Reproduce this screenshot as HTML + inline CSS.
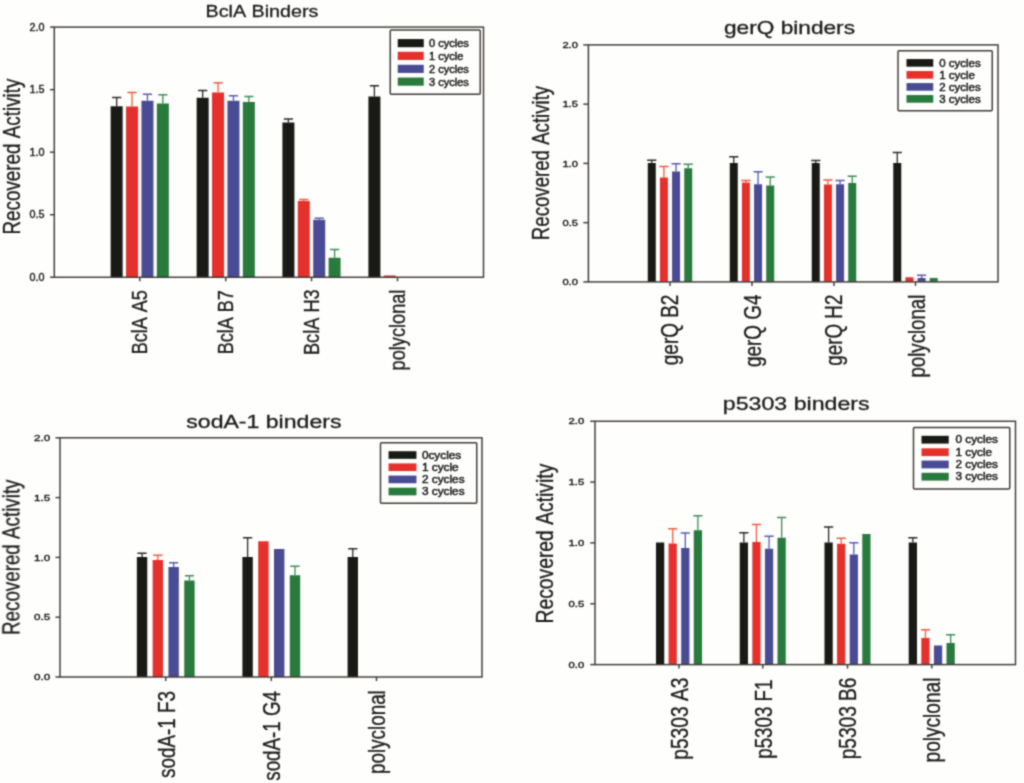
<!DOCTYPE html>
<html lang="en">
<head>
<meta charset="utf-8">
<title>Recovered Activity of binders after thermal cycles</title>
<style>
html,body{margin:0;padding:0;background:#fefefd;}
body{width:1024px;height:783px;overflow:hidden;}
svg{display:block;}
svg text{font-family:"Liberation Sans",Arial,Helvetica,sans-serif;font-kerning:none;}
</style>
</head>
<body>
<svg width="1024" height="783" viewBox="0 0 1024 783">
<defs><filter id="soft" x="0" y="0" width="1024" height="783" filterUnits="userSpaceOnUse" color-interpolation-filters="sRGB"><feConvolveMatrix order="3" kernelMatrix="0.04 0.12 0.04 0.12 0.36 0.12 0.04 0.12 0.04" edgeMode="duplicate" preserveAlpha="false"/></filter></defs>
<rect width="1024" height="783" fill="#fefefd"/>
<g filter="url(#soft)">
<g id="chart1">
<rect x="110.65" y="106.25" width="12" height="171" fill="#191915"/>
<path d="M116.65 106.25V97.5M112.05 97.5H121.25" stroke="#2e2a27" stroke-width="1.3" fill="none"/>
<rect x="126.05" y="106.5" width="12" height="170.75" fill="#e6302b"/>
<path d="M132.05 106.5V92.5M127.45 92.5H136.65" stroke="#ef5a3e" stroke-width="1.3" fill="none"/>
<rect x="141.45" y="100.75" width="12" height="176.5" fill="#4a4b95"/>
<path d="M147.45 100.75V94.25M142.85 94.25H152.05" stroke="#5a5ab0" stroke-width="1.3" fill="none"/>
<rect x="156.85" y="103.5" width="12" height="173.75" fill="#287a3d"/>
<path d="M162.85 103.5V94.75M158.25 94.75H167.45" stroke="#3e8c54" stroke-width="1.3" fill="none"/>
<rect x="196.65" y="97.75" width="12" height="179.5" fill="#191915"/>
<path d="M202.65 97.75V90.5M198.05 90.5H207.25" stroke="#2e2a27" stroke-width="1.3" fill="none"/>
<rect x="212.05" y="92.5" width="12" height="184.75" fill="#e6302b"/>
<path d="M218.05 92.5V82.75M213.45 82.75H222.65" stroke="#ef5a3e" stroke-width="1.3" fill="none"/>
<rect x="227.45" y="100.75" width="12" height="176.5" fill="#4a4b95"/>
<path d="M233.45 100.75V95.75M228.85 95.75H238.05" stroke="#5a5ab0" stroke-width="1.3" fill="none"/>
<rect x="242.85" y="102" width="12" height="175.25" fill="#287a3d"/>
<path d="M248.85 102V96.5M244.25 96.5H253.45" stroke="#3e8c54" stroke-width="1.3" fill="none"/>
<rect x="282.4" y="122.5" width="12" height="154.75" fill="#191915"/>
<path d="M288.4 122.5V119M283.8 119H293" stroke="#2e2a27" stroke-width="1.3" fill="none"/>
<rect x="297.8" y="201" width="12" height="76.25" fill="#e6302b"/>
<path d="M303.8 201V199.5M299.2 199.5H308.4" stroke="#ef5a3e" stroke-width="1.3" fill="none"/>
<rect x="313.2" y="219.75" width="12" height="57.5" fill="#4a4b95"/>
<path d="M319.2 219.75V218.25M314.6 218.25H323.8" stroke="#5a5ab0" stroke-width="1.3" fill="none"/>
<rect x="328.6" y="257.75" width="12" height="19.5" fill="#287a3d"/>
<path d="M334.6 257.75V249.5M330 249.5H339.2" stroke="#3e8c54" stroke-width="1.3" fill="none"/>
<rect x="368.4" y="96.5" width="12" height="180.75" fill="#191915"/>
<path d="M374.4 96.5V85.75M369.8 85.75H379" stroke="#2e2a27" stroke-width="1.3" fill="none"/>
<rect x="383.8" y="275.5" width="12" height="1.75" fill="#e6302b"/>
<rect x="54.3" y="27.1" width="429.2" height="250.15" fill="none" stroke="#3f3b37" stroke-width="1.45"/>
<path d="M50 27.1H54.3" stroke="#3f3b37" stroke-width="1.45"/>
<text x="29.4" y="30.53" font-size="10.4" textLength="15" lengthAdjust="spacingAndGlyphs" fill="#1c1c1c" stroke="#1c1c1c" stroke-width="0.4">2.0</text>
<path d="M50 89.64H54.3" stroke="#3f3b37" stroke-width="1.45"/>
<text x="29.4" y="93.07" font-size="10.4" textLength="15" lengthAdjust="spacingAndGlyphs" fill="#1c1c1c" stroke="#1c1c1c" stroke-width="0.4">1.5</text>
<path d="M50 152.18H54.3" stroke="#3f3b37" stroke-width="1.45"/>
<text x="29.4" y="155.61" font-size="10.4" textLength="15" lengthAdjust="spacingAndGlyphs" fill="#1c1c1c" stroke="#1c1c1c" stroke-width="0.4">1.0</text>
<path d="M50 214.71H54.3" stroke="#3f3b37" stroke-width="1.45"/>
<text x="29.4" y="218.14" font-size="10.4" textLength="15" lengthAdjust="spacingAndGlyphs" fill="#1c1c1c" stroke="#1c1c1c" stroke-width="0.4">0.5</text>
<path d="M50 277.25H54.3" stroke="#3f3b37" stroke-width="1.45"/>
<text x="29.4" y="280.68" font-size="10.4" textLength="15" lengthAdjust="spacingAndGlyphs" fill="#1c1c1c" stroke="#1c1c1c" stroke-width="0.4">0.0</text>
<path d="M139.75 277.25V281.25" stroke="#3f3b37" stroke-width="1.45"/>
<text transform="translate(147.15 354.3) rotate(-90)" font-size="22" textLength="64.2" lengthAdjust="spacingAndGlyphs" fill="#1c1c1c" stroke="#1c1c1c" stroke-width="0.35">BclA A5</text>
<path d="M225.75 277.25V281.25" stroke="#3f3b37" stroke-width="1.45"/>
<text transform="translate(233.15 354.3) rotate(-90)" font-size="22" textLength="64.2" lengthAdjust="spacingAndGlyphs" fill="#1c1c1c" stroke="#1c1c1c" stroke-width="0.35">BclA B7</text>
<path d="M311.5 277.25V281.25" stroke="#3f3b37" stroke-width="1.45"/>
<text transform="translate(318.9 355) rotate(-90)" font-size="22" textLength="65.6" lengthAdjust="spacingAndGlyphs" fill="#1c1c1c" stroke="#1c1c1c" stroke-width="0.35">BclA H3</text>
<path d="M397.5 277.25V281.25" stroke="#3f3b37" stroke-width="1.45"/>
<text transform="translate(404.7 370.4) rotate(-90)" font-size="22" textLength="80.8" lengthAdjust="spacingAndGlyphs" fill="#1c1c1c" stroke="#1c1c1c" stroke-width="0.35">polyclonal</text>
<text x="205.5" y="16.7" font-size="17.3" textLength="113" lengthAdjust="spacingAndGlyphs" fill="#1c1c1c" stroke="#1c1c1c" stroke-width="0.3">BclA Binders</text>
<text transform="translate(19.8 234.5) rotate(-90)" font-size="24" textLength="155.9" lengthAdjust="spacingAndGlyphs" fill="#1c1c1c" stroke="#1c1c1c" stroke-width="0.35">Recovered Activity</text>
<rect x="390.25" y="30" width="90" height="64.25" rx="1" fill="#fefefd" stroke="#3f3b37" stroke-width="1.45"/>
<rect x="397.75" y="39.05" width="26" height="8.15" fill="#191915"/>
<text x="429" y="47.05" font-size="10.0" textLength="39.75" lengthAdjust="spacingAndGlyphs" fill="#1c1c1c" stroke="#1c1c1c" stroke-width="0.45">0 cycles</text>
<rect x="397.75" y="51.8" width="26" height="8.15" fill="#e6302b"/>
<text x="429" y="59.8" font-size="10.0" textLength="34.25" lengthAdjust="spacingAndGlyphs" fill="#1c1c1c" stroke="#1c1c1c" stroke-width="0.45">1 cycle</text>
<rect x="397.75" y="64.8" width="26" height="8.15" fill="#4a4b95"/>
<text x="429" y="72.8" font-size="10.0" textLength="39.75" lengthAdjust="spacingAndGlyphs" fill="#1c1c1c" stroke="#1c1c1c" stroke-width="0.45">2 cycles</text>
<rect x="397.75" y="77.55" width="26" height="8.15" fill="#287a3d"/>
<text x="429" y="85.55" font-size="10.0" textLength="39.75" lengthAdjust="spacingAndGlyphs" fill="#1c1c1c" stroke="#1c1c1c" stroke-width="0.45">3 cycles</text>
</g>
<g id="chart2">
<rect x="647.77" y="163" width="8" height="118.9" fill="#191915"/>
<path d="M651.77 163V160.25M647.17 160.25H656.38" stroke="#2e2a27" stroke-width="1.3" fill="none"/>
<rect x="659.92" y="177.5" width="8" height="104.4" fill="#e6302b"/>
<path d="M663.92 177.5V166.5M659.32 166.5H668.52" stroke="#ef5a3e" stroke-width="1.3" fill="none"/>
<rect x="672.07" y="171.5" width="8" height="110.4" fill="#4a4b95"/>
<path d="M676.07 171.5V163.75M671.47 163.75H680.67" stroke="#5a5ab0" stroke-width="1.3" fill="none"/>
<rect x="684.23" y="168.25" width="8" height="113.65" fill="#287a3d"/>
<path d="M688.23 168.25V164.25M683.62 164.25H692.83" stroke="#3e8c54" stroke-width="1.3" fill="none"/>
<rect x="729.77" y="163" width="8" height="118.9" fill="#191915"/>
<path d="M733.77 163V156.75M729.17 156.75H738.38" stroke="#2e2a27" stroke-width="1.3" fill="none"/>
<rect x="741.92" y="182.5" width="8" height="99.4" fill="#e6302b"/>
<path d="M745.92 182.5V180.5M741.32 180.5H750.52" stroke="#ef5a3e" stroke-width="1.3" fill="none"/>
<rect x="754.07" y="184.25" width="8" height="97.65" fill="#4a4b95"/>
<path d="M758.07 184.25V171.75M753.47 171.75H762.67" stroke="#5a5ab0" stroke-width="1.3" fill="none"/>
<rect x="766.23" y="185.5" width="8" height="96.4" fill="#287a3d"/>
<path d="M770.23 185.5V177M765.62 177H774.83" stroke="#3e8c54" stroke-width="1.3" fill="none"/>
<rect x="811.77" y="163" width="8" height="118.9" fill="#191915"/>
<path d="M815.77 163V160.5M811.17 160.5H820.38" stroke="#2e2a27" stroke-width="1.3" fill="none"/>
<rect x="823.92" y="184.5" width="8" height="97.4" fill="#e6302b"/>
<path d="M827.92 184.5V180M823.32 180H832.52" stroke="#ef5a3e" stroke-width="1.3" fill="none"/>
<rect x="836.07" y="184.25" width="8" height="97.65" fill="#4a4b95"/>
<path d="M840.07 184.25V180.5M835.47 180.5H844.67" stroke="#5a5ab0" stroke-width="1.3" fill="none"/>
<rect x="848.23" y="183" width="8" height="98.9" fill="#287a3d"/>
<path d="M852.23 183V176.25M847.62 176.25H856.83" stroke="#3e8c54" stroke-width="1.3" fill="none"/>
<rect x="893.27" y="163" width="8" height="118.9" fill="#191915"/>
<path d="M897.27 163V152.5M892.67 152.5H901.88" stroke="#2e2a27" stroke-width="1.3" fill="none"/>
<rect x="905.42" y="277.25" width="8" height="4.65" fill="#e6302b"/>
<rect x="917.57" y="278" width="8" height="3.9" fill="#4a4b95"/>
<path d="M921.57 278V275.25M916.97 275.25H926.17" stroke="#5a5ab0" stroke-width="1.3" fill="none"/>
<rect x="929.73" y="278" width="8" height="3.9" fill="#287a3d"/>
<rect x="588.4" y="44.9" width="409.6" height="237" fill="none" stroke="#3f3b37" stroke-width="1.45"/>
<path d="M583.3 44.9H588.4" stroke="#3f3b37" stroke-width="1.45"/>
<text x="562.4" y="48" font-size="9.4" textLength="15.5" lengthAdjust="spacingAndGlyphs" fill="#1c1c1c" stroke="#1c1c1c" stroke-width="0.4">2.0</text>
<path d="M583.3 104.15H588.4" stroke="#3f3b37" stroke-width="1.45"/>
<text x="562.4" y="107.25" font-size="9.4" textLength="15.5" lengthAdjust="spacingAndGlyphs" fill="#1c1c1c" stroke="#1c1c1c" stroke-width="0.4">1.5</text>
<path d="M583.3 163.4H588.4" stroke="#3f3b37" stroke-width="1.45"/>
<text x="562.4" y="166.5" font-size="9.4" textLength="15.5" lengthAdjust="spacingAndGlyphs" fill="#1c1c1c" stroke="#1c1c1c" stroke-width="0.4">1.0</text>
<path d="M583.3 222.65H588.4" stroke="#3f3b37" stroke-width="1.45"/>
<text x="562.4" y="225.75" font-size="9.4" textLength="15.5" lengthAdjust="spacingAndGlyphs" fill="#1c1c1c" stroke="#1c1c1c" stroke-width="0.4">0.5</text>
<path d="M583.3 281.9H588.4" stroke="#3f3b37" stroke-width="1.45"/>
<text x="562.4" y="285" font-size="9.4" textLength="15.5" lengthAdjust="spacingAndGlyphs" fill="#1c1c1c" stroke="#1c1c1c" stroke-width="0.4">0.0</text>
<path d="M670 281.9V285.9" stroke="#3f3b37" stroke-width="1.45"/>
<text transform="translate(678.2 365.2) rotate(-90)" font-size="23.7" textLength="70.6" lengthAdjust="spacingAndGlyphs" fill="#1c1c1c" stroke="#1c1c1c" stroke-width="0.35">gerQ B2</text>
<path d="M752 281.9V285.9" stroke="#3f3b37" stroke-width="1.45"/>
<text transform="translate(760.6 367.1) rotate(-90)" font-size="23.7" textLength="72.5" lengthAdjust="spacingAndGlyphs" fill="#1c1c1c" stroke="#1c1c1c" stroke-width="0.35">gerQ G4</text>
<path d="M834 281.9V285.9" stroke="#3f3b37" stroke-width="1.45"/>
<text transform="translate(842.3 365.7) rotate(-90)" font-size="23.7" textLength="71.1" lengthAdjust="spacingAndGlyphs" fill="#1c1c1c" stroke="#1c1c1c" stroke-width="0.35">gerQ H2</text>
<path d="M915.5 281.9V285.9" stroke="#3f3b37" stroke-width="1.45"/>
<text transform="translate(924.8 377.6) rotate(-90)" font-size="23.7" textLength="83" lengthAdjust="spacingAndGlyphs" fill="#1c1c1c" stroke="#1c1c1c" stroke-width="0.35">polyclonal</text>
<text x="724" y="33.9" font-size="17.9" textLength="131" lengthAdjust="spacingAndGlyphs" fill="#1c1c1c" stroke="#1c1c1c" stroke-width="0.3">gerQ binders</text>
<text transform="translate(549 240.2) rotate(-90)" font-size="23.7" textLength="154.4" lengthAdjust="spacingAndGlyphs" fill="#1c1c1c" stroke="#1c1c1c" stroke-width="0.35">Recovered Activity</text>
<rect x="898" y="50.75" width="94.25" height="60" rx="1" fill="#fefefd" stroke="#3f3b37" stroke-width="1.45"/>
<rect x="906.5" y="59.05" width="26.75" height="7.65" fill="#191915"/>
<text x="939.25" y="66.55" font-size="10.0" textLength="41.4" lengthAdjust="spacingAndGlyphs" fill="#1c1c1c" stroke="#1c1c1c" stroke-width="0.45">0 cycles</text>
<rect x="906.5" y="71.05" width="26.75" height="7.65" fill="#e6302b"/>
<text x="939.25" y="78.55" font-size="10.0" textLength="35.67" lengthAdjust="spacingAndGlyphs" fill="#1c1c1c" stroke="#1c1c1c" stroke-width="0.45">1 cycle</text>
<rect x="906.5" y="83.05" width="26.75" height="7.65" fill="#4a4b95"/>
<text x="939.25" y="90.55" font-size="10.0" textLength="41.4" lengthAdjust="spacingAndGlyphs" fill="#1c1c1c" stroke="#1c1c1c" stroke-width="0.45">2 cycles</text>
<rect x="906.5" y="95.05" width="26.75" height="7.65" fill="#287a3d"/>
<text x="939.25" y="102.55" font-size="10.0" textLength="41.4" lengthAdjust="spacingAndGlyphs" fill="#1c1c1c" stroke="#1c1c1c" stroke-width="0.45">3 cycles</text>
</g>
<g id="chart3">
<rect x="136.85" y="557" width="10.4" height="120" fill="#191915"/>
<path d="M142.05 557V553.25M137.45 553.25H146.65" stroke="#2e2a27" stroke-width="1.3" fill="none"/>
<rect x="152.65" y="560" width="10.4" height="117" fill="#e6302b"/>
<path d="M157.85 560V555.25M153.25 555.25H162.45" stroke="#ef5a3e" stroke-width="1.3" fill="none"/>
<rect x="168.45" y="567" width="10.4" height="110" fill="#4a4b95"/>
<path d="M173.65 567V562.75M169.05 562.75H178.25" stroke="#5a5ab0" stroke-width="1.3" fill="none"/>
<rect x="184.25" y="580.5" width="10.4" height="96.5" fill="#287a3d"/>
<path d="M189.45 580.5V575.75M184.85 575.75H194.05" stroke="#3e8c54" stroke-width="1.3" fill="none"/>
<rect x="242.4" y="557" width="10.4" height="120" fill="#191915"/>
<path d="M247.6 557V537.75M243 537.75H252.2" stroke="#2e2a27" stroke-width="1.3" fill="none"/>
<rect x="258.2" y="541.25" width="10.4" height="135.75" fill="#e6302b"/>
<rect x="274" y="549" width="10.4" height="128" fill="#4a4b95"/>
<rect x="289.8" y="575.25" width="10.4" height="101.75" fill="#287a3d"/>
<path d="M295 575.25V566.25M290.4 566.25H299.6" stroke="#3e8c54" stroke-width="1.3" fill="none"/>
<rect x="347.6" y="557" width="10.4" height="120" fill="#191915"/>
<path d="M352.8 557V548.75M348.2 548.75H357.4" stroke="#2e2a27" stroke-width="1.3" fill="none"/>
<rect x="60" y="437.8" width="422" height="239.2" fill="none" stroke="#3f3b37" stroke-width="1.45"/>
<path d="M55.5 437.8H60" stroke="#3f3b37" stroke-width="1.45"/>
<text x="34" y="440.9" font-size="9.4" textLength="16.2" lengthAdjust="spacingAndGlyphs" fill="#1c1c1c" stroke="#1c1c1c" stroke-width="0.4">2.0</text>
<path d="M55.5 497.6H60" stroke="#3f3b37" stroke-width="1.45"/>
<text x="34" y="500.7" font-size="9.4" textLength="16.2" lengthAdjust="spacingAndGlyphs" fill="#1c1c1c" stroke="#1c1c1c" stroke-width="0.4">1.5</text>
<path d="M55.5 557.4H60" stroke="#3f3b37" stroke-width="1.45"/>
<text x="34" y="560.5" font-size="9.4" textLength="16.2" lengthAdjust="spacingAndGlyphs" fill="#1c1c1c" stroke="#1c1c1c" stroke-width="0.4">1.0</text>
<path d="M55.5 617.2H60" stroke="#3f3b37" stroke-width="1.45"/>
<text x="34" y="620.3" font-size="9.4" textLength="16.2" lengthAdjust="spacingAndGlyphs" fill="#1c1c1c" stroke="#1c1c1c" stroke-width="0.4">0.5</text>
<path d="M55.5 677H60" stroke="#3f3b37" stroke-width="1.45"/>
<text x="34" y="680.1" font-size="9.4" textLength="16.2" lengthAdjust="spacingAndGlyphs" fill="#1c1c1c" stroke="#1c1c1c" stroke-width="0.4">0.0</text>
<path d="M165.75 677V681" stroke="#3f3b37" stroke-width="1.45"/>
<text transform="translate(174.55 778) rotate(-90)" font-size="23.7" textLength="87" lengthAdjust="spacingAndGlyphs" fill="#1c1c1c" stroke="#1c1c1c" stroke-width="0.35">sodA-1 F3</text>
<path d="M271.3 677V681" stroke="#3f3b37" stroke-width="1.45"/>
<text transform="translate(280.3 780.7) rotate(-90)" font-size="23.7" textLength="89.7" lengthAdjust="spacingAndGlyphs" fill="#1c1c1c" stroke="#1c1c1c" stroke-width="0.35">sodA-1 G4</text>
<path d="M376.5 677V681" stroke="#3f3b37" stroke-width="1.45"/>
<text transform="translate(384.6 773.9) rotate(-90)" font-size="23.7" textLength="83.7" lengthAdjust="spacingAndGlyphs" fill="#1c1c1c" stroke="#1c1c1c" stroke-width="0.35">polyclonal</text>
<text x="186.25" y="428.25" font-size="18.2" textLength="155.25" lengthAdjust="spacingAndGlyphs" fill="#1c1c1c" stroke="#1c1c1c" stroke-width="0.3">sodA-1 binders</text>
<text transform="translate(19.4 635) rotate(-90)" font-size="23.7" textLength="155.5" lengthAdjust="spacingAndGlyphs" fill="#1c1c1c" stroke="#1c1c1c" stroke-width="0.35">Recovered Activity</text>
<rect x="380.5" y="442.75" width="96.25" height="60.5" rx="1" fill="#fefefd" stroke="#3f3b37" stroke-width="1.45"/>
<rect x="388.55" y="451.2" width="27.9" height="7.65" fill="#191915"/>
<text x="421.9" y="458.7" font-size="10.0" textLength="39.41" lengthAdjust="spacingAndGlyphs" fill="#1c1c1c" stroke="#1c1c1c" stroke-width="0.45">0cycles</text>
<rect x="388.55" y="463.4" width="27.9" height="7.65" fill="#e6302b"/>
<text x="421.9" y="470.9" font-size="10.0" textLength="36.79" lengthAdjust="spacingAndGlyphs" fill="#1c1c1c" stroke="#1c1c1c" stroke-width="0.45">1 cycle</text>
<rect x="388.55" y="475.6" width="27.9" height="7.65" fill="#4a4b95"/>
<text x="421.9" y="483.1" font-size="10.0" textLength="42.7" lengthAdjust="spacingAndGlyphs" fill="#1c1c1c" stroke="#1c1c1c" stroke-width="0.45">2 cycles</text>
<rect x="388.55" y="487.7" width="27.9" height="7.65" fill="#287a3d"/>
<text x="421.9" y="495.2" font-size="10.0" textLength="42.7" lengthAdjust="spacingAndGlyphs" fill="#1c1c1c" stroke="#1c1c1c" stroke-width="0.45">3 cycles</text>
</g>
<g id="chart4">
<rect x="655.98" y="542.5" width="8.25" height="122.1" fill="#191915"/>
<rect x="668.58" y="543.5" width="8.25" height="121.1" fill="#e6302b"/>
<path d="M672.7 543.5V528.75M668.1 528.75H677.3" stroke="#ef5a3e" stroke-width="1.3" fill="none"/>
<rect x="681.18" y="548" width="8.25" height="116.6" fill="#4a4b95"/>
<path d="M685.3 548V533M680.7 533H689.9" stroke="#5a5ab0" stroke-width="1.3" fill="none"/>
<rect x="693.77" y="530.25" width="8.25" height="134.35" fill="#287a3d"/>
<path d="M697.9 530.25V515.75M693.3 515.75H702.5" stroke="#3e8c54" stroke-width="1.3" fill="none"/>
<rect x="739.73" y="542.5" width="8.25" height="122.1" fill="#191915"/>
<path d="M743.85 542.5V532.75M739.25 532.75H748.45" stroke="#2e2a27" stroke-width="1.3" fill="none"/>
<rect x="752.33" y="542" width="8.25" height="122.6" fill="#e6302b"/>
<path d="M756.45 542V524.5M751.85 524.5H761.05" stroke="#ef5a3e" stroke-width="1.3" fill="none"/>
<rect x="764.93" y="548.75" width="8.25" height="115.85" fill="#4a4b95"/>
<path d="M769.05 548.75V536.25M764.45 536.25H773.65" stroke="#5a5ab0" stroke-width="1.3" fill="none"/>
<rect x="777.52" y="537.75" width="8.25" height="126.85" fill="#287a3d"/>
<path d="M781.65 537.75V517.5M777.05 517.5H786.25" stroke="#3e8c54" stroke-width="1.3" fill="none"/>
<rect x="824.48" y="542.5" width="8.25" height="122.1" fill="#191915"/>
<path d="M828.6 542.5V527M824 527H833.2" stroke="#2e2a27" stroke-width="1.3" fill="none"/>
<rect x="837.08" y="543.75" width="8.25" height="120.85" fill="#e6302b"/>
<path d="M841.2 543.75V538.25M836.6 538.25H845.8" stroke="#ef5a3e" stroke-width="1.3" fill="none"/>
<rect x="849.68" y="554.5" width="8.25" height="110.1" fill="#4a4b95"/>
<path d="M853.8 554.5V542.75M849.2 542.75H858.4" stroke="#5a5ab0" stroke-width="1.3" fill="none"/>
<rect x="862.27" y="534" width="8.25" height="130.6" fill="#287a3d"/>
<rect x="908.73" y="542.5" width="8.25" height="122.1" fill="#191915"/>
<path d="M912.85 542.5V537.75M908.25 537.75H917.45" stroke="#2e2a27" stroke-width="1.3" fill="none"/>
<rect x="921.33" y="638" width="8.25" height="26.6" fill="#e6302b"/>
<path d="M925.45 638V629.75M920.85 629.75H930.05" stroke="#ef5a3e" stroke-width="1.3" fill="none"/>
<rect x="933.93" y="645.5" width="8.25" height="19.1" fill="#4a4b95"/>
<rect x="946.52" y="643" width="8.25" height="21.6" fill="#287a3d"/>
<path d="M950.65 643V634.75M946.05 634.75H955.25" stroke="#3e8c54" stroke-width="1.3" fill="none"/>
<rect x="595" y="421.25" width="420.5" height="243.35" fill="none" stroke="#3f3b37" stroke-width="1.45"/>
<path d="M590.25 421.25H595" stroke="#3f3b37" stroke-width="1.45"/>
<text x="568.5" y="424.35" font-size="9.4" textLength="15.7" lengthAdjust="spacingAndGlyphs" fill="#1c1c1c" stroke="#1c1c1c" stroke-width="0.4">2.0</text>
<path d="M590.25 482.09H595" stroke="#3f3b37" stroke-width="1.45"/>
<text x="568.5" y="485.19" font-size="9.4" textLength="15.7" lengthAdjust="spacingAndGlyphs" fill="#1c1c1c" stroke="#1c1c1c" stroke-width="0.4">1.5</text>
<path d="M590.25 542.92H595" stroke="#3f3b37" stroke-width="1.45"/>
<text x="568.5" y="546.03" font-size="9.4" textLength="15.7" lengthAdjust="spacingAndGlyphs" fill="#1c1c1c" stroke="#1c1c1c" stroke-width="0.4">1.0</text>
<path d="M590.25 603.76H595" stroke="#3f3b37" stroke-width="1.45"/>
<text x="568.5" y="606.86" font-size="9.4" textLength="15.7" lengthAdjust="spacingAndGlyphs" fill="#1c1c1c" stroke="#1c1c1c" stroke-width="0.4">0.5</text>
<path d="M590.25 664.6H595" stroke="#3f3b37" stroke-width="1.45"/>
<text x="568.5" y="667.7" font-size="9.4" textLength="15.7" lengthAdjust="spacingAndGlyphs" fill="#1c1c1c" stroke="#1c1c1c" stroke-width="0.4">0.0</text>
<path d="M679 664.6V668.6" stroke="#3f3b37" stroke-width="1.45"/>
<text transform="translate(687.6 759.75) rotate(-90)" font-size="23.7" textLength="82.25" lengthAdjust="spacingAndGlyphs" fill="#1c1c1c" stroke="#1c1c1c" stroke-width="0.35">p5303 A3</text>
<path d="M762.75 664.6V668.6" stroke="#3f3b37" stroke-width="1.45"/>
<text transform="translate(771.65 758.7) rotate(-90)" font-size="23.7" textLength="79.1" lengthAdjust="spacingAndGlyphs" fill="#1c1c1c" stroke="#1c1c1c" stroke-width="0.35">p5303 F1</text>
<path d="M847.5 664.6V668.6" stroke="#3f3b37" stroke-width="1.45"/>
<text transform="translate(855.9 759.35) rotate(-90)" font-size="23.7" textLength="81.85" lengthAdjust="spacingAndGlyphs" fill="#1c1c1c" stroke="#1c1c1c" stroke-width="0.35">p5303 B6</text>
<path d="M931.75 664.6V668.6" stroke="#3f3b37" stroke-width="1.45"/>
<text transform="translate(939.95 762.5) rotate(-90)" font-size="23.7" textLength="85" lengthAdjust="spacingAndGlyphs" fill="#1c1c1c" stroke="#1c1c1c" stroke-width="0.35">polyclonal</text>
<text x="722.8" y="409.5" font-size="18.2" textLength="146.8" lengthAdjust="spacingAndGlyphs" fill="#1c1c1c" stroke="#1c1c1c" stroke-width="0.3">p5303 binders</text>
<text transform="translate(553.1 623.5) rotate(-90)" font-size="23.7" textLength="159.8" lengthAdjust="spacingAndGlyphs" fill="#1c1c1c" stroke="#1c1c1c" stroke-width="0.35">Recovered Activity</text>
<rect x="913.5" y="427.5" width="96.25" height="61.5" rx="1" fill="#fefefd" stroke="#3f3b37" stroke-width="1.45"/>
<rect x="921.5" y="435.8" width="27.25" height="7.8" fill="#191915"/>
<text x="955.5" y="443.45" font-size="10.0" textLength="42.4" lengthAdjust="spacingAndGlyphs" fill="#1c1c1c" stroke="#1c1c1c" stroke-width="0.45">0 cycles</text>
<rect x="921.5" y="448.3" width="27.25" height="7.8" fill="#e6302b"/>
<text x="955.5" y="455.95" font-size="10.0" textLength="36.53" lengthAdjust="spacingAndGlyphs" fill="#1c1c1c" stroke="#1c1c1c" stroke-width="0.45">1 cycle</text>
<rect x="921.5" y="460.55" width="27.25" height="7.8" fill="#4a4b95"/>
<text x="955.5" y="468.2" font-size="10.0" textLength="42.4" lengthAdjust="spacingAndGlyphs" fill="#1c1c1c" stroke="#1c1c1c" stroke-width="0.45">2 cycles</text>
<rect x="921.5" y="472.8" width="27.25" height="7.8" fill="#287a3d"/>
<text x="955.5" y="480.45" font-size="10.0" textLength="42.4" lengthAdjust="spacingAndGlyphs" fill="#1c1c1c" stroke="#1c1c1c" stroke-width="0.45">3 cycles</text>
</g>
</g>
</svg>
</body>
</html>
